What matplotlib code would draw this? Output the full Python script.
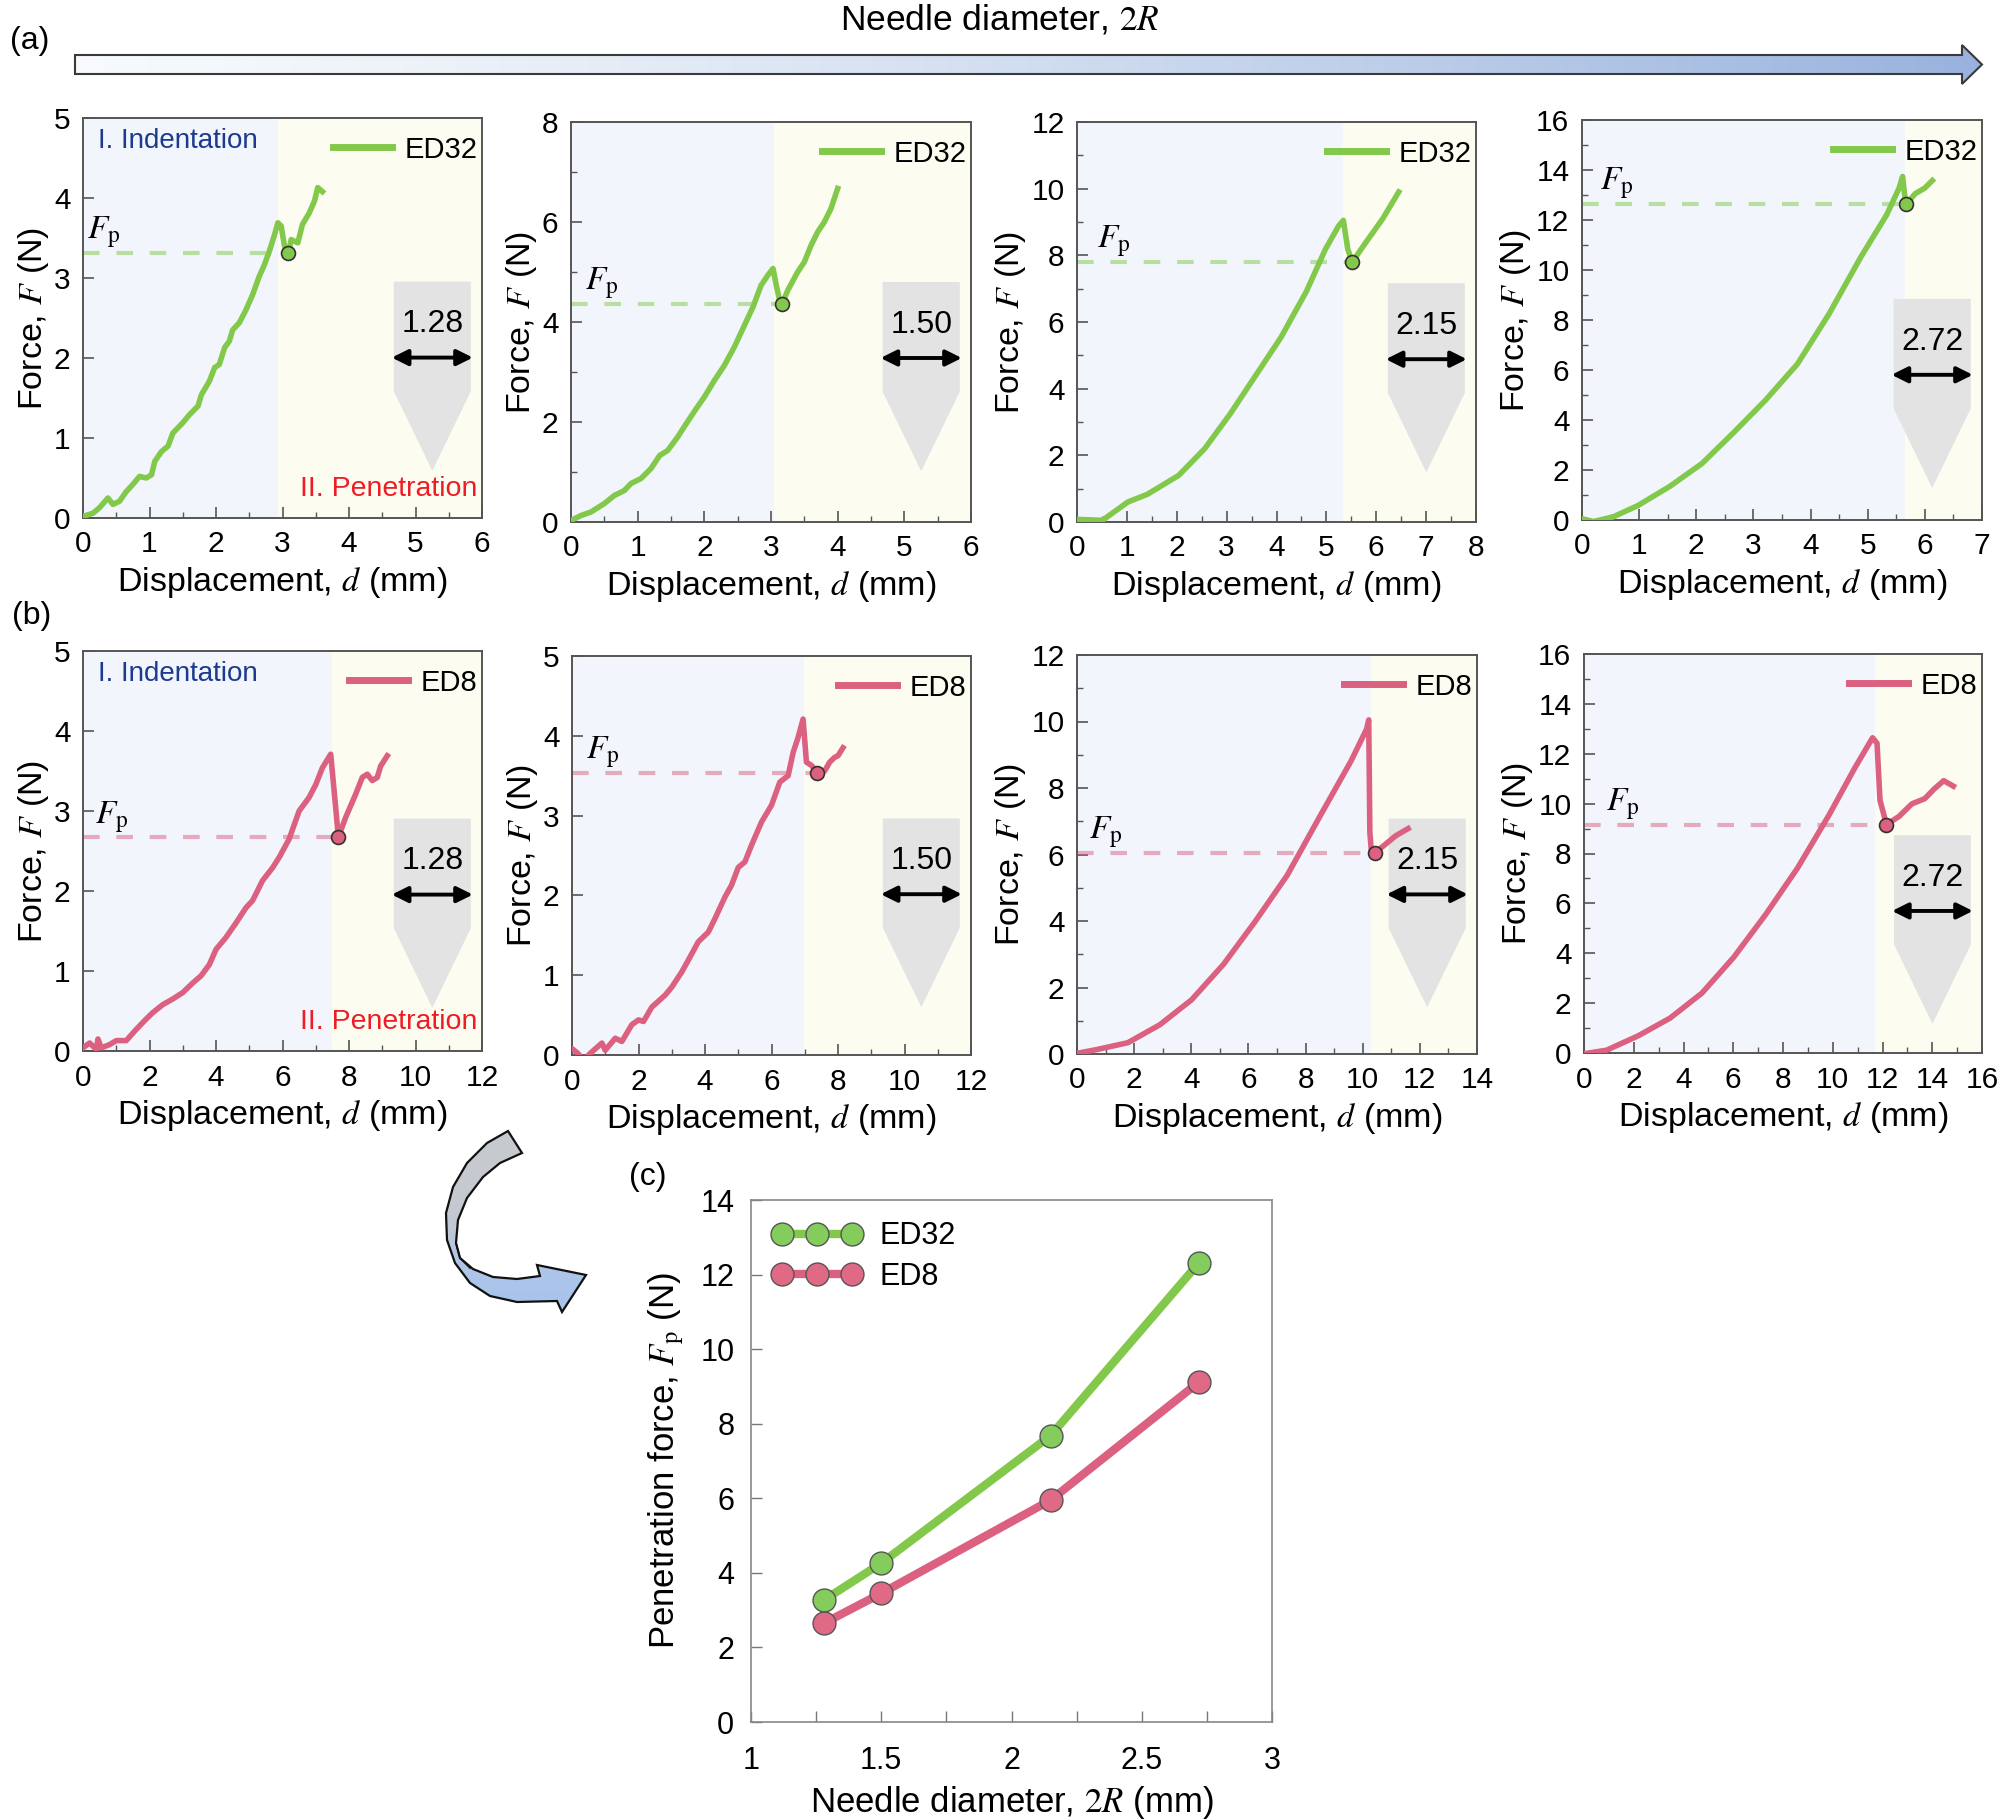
import numpy as np
import matplotlib.pyplot as plt
from matplotlib.patches import Polygon
from matplotlib.lines import Line2D

plt.rcParams['font.family'] = ['Liberation Sans', 'DejaVu Sans']
plt.rcParams['mathtext.fontset'] = 'stix'

# ---- data ----
# row (a): ED32
a1_d = [0, 0.15, 0.25, 0.375, 0.45, 0.55, 0.65, 0.75, 0.85, 0.95, 1.03, 1.08, 1.18, 1.28, 1.35, 1.5, 1.6, 1.73, 1.78, 1.9, 1.98, 2.05, 2.13, 2.2, 2.25, 2.35, 2.45, 2.55, 2.65, 2.73, 2.8, 2.88, 2.93, 2.98, 3.03, 3.06, 3.09, 3.13, 3.23, 3.3, 3.4, 3.48, 3.53, 3.6]
a1_f = [0.02, 0.06, 0.13, 0.25, 0.17, 0.21, 0.33, 0.42, 0.52, 0.5, 0.54, 0.71, 0.83, 0.9, 1.06, 1.19, 1.29, 1.4, 1.54, 1.71, 1.88, 1.92, 2.13, 2.21, 2.35, 2.44, 2.6, 2.79, 3.02, 3.17, 3.33, 3.54, 3.69, 3.65, 3.4, 3.33, 3.31, 3.48, 3.44, 3.67, 3.81, 3.96, 4.13, 4.08]
a2_d = [0, 0.15, 0.3, 0.5, 0.65, 0.8, 0.9, 1.05, 1.2, 1.33, 1.45, 1.6, 1.73, 1.88, 2.0, 2.15, 2.3, 2.45, 2.6, 2.73, 2.85, 2.95, 3.03, 3.08, 3.13, 3.17, 3.25, 3.4, 3.5, 3.6, 3.7, 3.8, 3.9, 4.0]
a2_f = [0.03, 0.13, 0.2, 0.37, 0.53, 0.63, 0.77, 0.87, 1.07, 1.33, 1.43, 1.7, 1.97, 2.27, 2.5, 2.83, 3.13, 3.5, 3.93, 4.3, 4.73, 4.93, 5.07, 4.73, 4.43, 4.37, 4.63, 5.0, 5.2, 5.53, 5.8, 6.0, 6.27, 6.67]
a3_d = [0, 0.51, 1.02, 1.41, 2.04, 2.56, 3.07, 3.58, 4.09, 4.6, 4.98, 5.24, 5.34, 5.43, 5.52, 5.75, 6.13, 6.45]
a3_f = [0.08, 0.05, 0.6, 0.83, 1.4, 2.2, 3.24, 4.39, 5.54, 6.92, 8.18, 8.87, 9.05, 8.18, 7.8, 8.3, 9.1, 9.9]
a4_d = [0, 0.2, 0.54, 0.98, 1.54, 2.1, 2.65, 3.21, 3.77, 4.32, 4.88, 5.33, 5.55, 5.61, 5.64, 5.67, 5.83, 6.0, 6.13]
a4_f = [0.05, -0.06, 0.12, 0.58, 1.35, 2.26, 3.49, 4.79, 6.24, 8.23, 10.52, 12.2, 13.28, 13.74, 13.12, 12.63, 13.05, 13.28, 13.58]

# row (b): ED8
b1_d = [0, 0.2, 0.4, 0.45, 0.55, 0.8, 1.0, 1.3, 1.6, 1.9, 2.1, 2.4, 2.7, 3.0, 3.3, 3.55, 3.8, 4.0, 4.3, 4.6, 4.9, 5.1, 5.4, 5.7, 5.9, 6.2, 6.5, 6.8, 7.0, 7.2, 7.45, 7.6, 7.68, 7.9, 8.2, 8.4, 8.55, 8.7, 8.85, 8.95, 9.15]
b1_f = [0.04, 0.1, 0.02, 0.15, 0.04, 0.08, 0.13, 0.13, 0.27, 0.4, 0.48, 0.58, 0.65, 0.73, 0.85, 0.94, 1.08, 1.27, 1.42, 1.6, 1.79, 1.88, 2.13, 2.29, 2.42, 2.65, 3.0, 3.17, 3.33, 3.54, 3.71, 3.04, 2.67, 2.92, 3.21, 3.42, 3.46, 3.38, 3.42, 3.56, 3.69]
b2_d = [0, 0.15, 0.35, 0.6, 0.9, 1.0, 1.3, 1.5, 1.8, 2.0, 2.15, 2.4, 2.8, 3.0, 3.3, 3.5, 3.8, 4.1, 4.3, 4.6, 4.8, 5.0, 5.2, 5.4, 5.7, 6.0, 6.25, 6.5, 6.65, 6.8, 6.95, 7.05, 7.2, 7.38, 7.6, 7.75, 7.9, 8.0, 8.15]
b2_f = [0.08, 0.03, -0.06, 0.04, 0.15, 0.06, 0.21, 0.17, 0.38, 0.44, 0.42, 0.6, 0.75, 0.85, 1.04, 1.19, 1.42, 1.54, 1.71, 1.98, 2.13, 2.35, 2.42, 2.63, 2.92, 3.13, 3.42, 3.5, 3.79, 3.98, 4.21, 3.67, 3.63, 3.54, 3.56, 3.67, 3.73, 3.75, 3.85]
b3_d = [0, 0.67, 1.78, 2.9, 4.01, 5.13, 6.24, 7.36, 8.47, 9.59, 10.14, 10.21, 10.25, 10.3, 10.43, 10.7, 11.15, 11.59]
b3_f = [0.02, 0.13, 0.34, 0.88, 1.63, 2.7, 3.99, 5.38, 7.1, 8.81, 9.78, 10.05, 6.67, 6.13, 6.06, 6.24, 6.56, 6.78]
b4_d = [0, 0.9, 2.18, 3.46, 4.74, 6.02, 7.3, 8.58, 9.86, 10.88, 11.6, 11.78, 11.9, 12.16, 12.67, 13.18, 13.7, 14.08, 14.46, 14.85]
b4_f = [-0.03, 0.11, 0.69, 1.4, 2.4, 3.84, 5.55, 7.41, 9.56, 11.42, 12.64, 12.42, 10.13, 9.16, 9.49, 9.99, 10.2, 10.59, 10.92, 10.7]

# penetration points (dip after peak) per panel
fp_d_ed32 = [3.09, 3.17, 5.52, 5.67]
fp_ed32 = [3.31, 4.37, 7.80, 12.63]
fp_d_ed8 = [7.68, 7.38, 10.43, 12.16]
fp_ed8 = [2.67, 3.54, 6.06, 9.16]

# indentation / penetration boundary (mm)
split_ed32 = [2.93, 3.04, 5.34, 5.66]
split_ed8 = [7.48, 6.98, 10.3, 11.7]

# needle diameters, 2R (mm)
needle_d = [1.28, 1.50, 2.15, 2.72]

# panel (c)
pen_ed32 = [3.27, 4.26, 7.68, 12.32]
pen_ed8 = [2.65, 3.45, 5.95, 9.12]

GREEN = '#82c84a'
PINK = '#dc6080'
GREEN_M = '#84cc5c'
PINK_M = '#e06a86'
BLUE_BG = '#f2f6fc'
YEL_BG = '#fcfcf1'
NEEDLE = '#e3e3e3'
SPINE = '#555555'

W, H = 2000, 1820
fig = plt.figure(figsize=(W / 100, H / 100), dpi=100)


def px_rect(l, t, r, b):
    return [l / W, 1 - b / H, (r - l) / W, (b - t) / H]


def panel(rect, d, f, fpx, fpv, split, xmax, ymax, xmaj, xmin, ymaj, ymin,
          color, name, diam, ntop, fpx_txt, phases):
    ax = fig.add_axes(rect)
    ax.set_xlim(0, xmax)
    ax.set_ylim(0, ymax)
    ax.axvspan(0, split, color=BLUE_BG, zorder=0, lw=0)
    ax.axvspan(split, xmax, color=YEL_BG, zorder=0, lw=0)

    # needle sketch
    x0, x1 = 0.779, 0.972
    xm = (x0 + x1) / 2
    needle = Polygon([(x0, ntop), (x1, ntop), (x1, ntop - 0.274),
                      (xm, ntop - 0.473), (x0, ntop - 0.274)],
                     closed=True, transform=ax.transAxes, facecolor=NEEDLE,
                     edgecolor='none', zorder=1)
    ax.add_patch(needle)
    ax.text(xm, ntop - 0.107, '%.2f' % diam, transform=ax.transAxes,
            ha='center', va='center', fontsize=23, zorder=2)
    ax.annotate('', xy=(x0 - 0.005, ntop - 0.19), xytext=(x1 + 0.005, ntop - 0.19),
                xycoords='axes fraction', textcoords='axes fraction',
                arrowprops=dict(arrowstyle='<|-|>', color='k', lw=2.8,
                                mutation_scale=24, shrinkA=0, shrinkB=0), zorder=2)

    ax.plot(d, f, color=color, lw=4, zorder=3, solid_joinstyle='round')
    ax.plot([0, fpx], [fpv, fpv], color=color, alpha=0.5, lw=3,
            dashes=(4, 4), zorder=2)
    ax.plot([fpx], [fpv], 'o', ms=10, mfc=color, mec='#333333', mew=1.2, zorder=4)
    ax.annotate(r'$F_{\rm p}$', xy=(fpx_txt, fpv), xycoords=('axes fraction', 'data'),
                xytext=(0, 2), textcoords='offset points', ha='left', va='bottom',
                fontsize=24, zorder=4)

    ax.legend(handles=[Line2D([], [], color=color, lw=5)], labels=[name],
              loc='upper right', bbox_to_anchor=(1.0, 0.967), frameon=False,
              fontsize=21, handlelength=2.0, handletextpad=0.45,
              borderaxespad=0.0, borderpad=0.15)

    if phases:
        ax.text(0.0375, 0.975, 'I. Indentation', transform=ax.transAxes,
                ha='left', va='top', color='#1c3b8e', fontsize=20)
        ax.text(0.9875, 0.055, 'II. Penetration', transform=ax.transAxes,
                ha='right', va='baseline', color='#ee1c25', fontsize=20.5)

    ax.set_xticks(np.arange(0, xmax + 0.01, xmaj))
    ax.set_xticks(np.arange(0, xmax + 0.01, xmin), minor=True)
    ax.set_yticks(np.arange(0, ymax + 0.01, ymaj))
    if ymin:
        ax.set_yticks(np.arange(0, ymax + 0.01, ymin), minor=True)
    ax.xaxis.set_major_formatter(plt.FuncFormatter(lambda v, p: '%g' % v))
    ax.tick_params(which='both', direction='in', color=SPINE, labelsize=21.5,
                   top=False, right=False)
    ax.tick_params(which='major', length=8, width=1.2, pad=9)
    ax.tick_params(which='minor', length=4.5, width=1.0)
    for s in ax.spines.values():
        s.set_color(SPINE)
        s.set_linewidth(1.4)
    ax.set_xlabel(r'Displacement, $d$ (mm)', fontsize=24.5, labelpad=5)
    ax.set_ylabel(r'Force, $F$ (N)', fontsize=24.5, labelpad=2)
    return ax


# row (a)
panel(px_rect(83, 118, 482, 518), a1_d, a1_f, fp_d_ed32[0], fp_ed32[0], split_ed32[0],
      6, 5, 1, 0.5, 1, None, GREEN, 'ED32', needle_d[0], 0.591, 0.01, True)
panel(px_rect(571, 122, 971, 522), a2_d, a2_f, fp_d_ed32[1], fp_ed32[1], split_ed32[1],
      6, 8, 1, 0.5, 2, 1, GREEN, 'ED32', needle_d[1], 0.600, 0.035, False)
panel(px_rect(1077, 122, 1476, 522), a3_d, a3_f, fp_d_ed32[2], fp_ed32[2], split_ed32[2],
      8, 12, 1, 0.5, 2, 1, GREEN, 'ED32', needle_d[2], 0.597, 0.05, False)
panel(px_rect(1582, 120, 1982, 520), a4_d, a4_f, fp_d_ed32[3], fp_ed32[3], split_ed32[3],
      7, 16, 1, 0.5, 2, 1, GREEN, 'ED32', needle_d[3], 0.553, 0.045, False)

# row (b)
panel(px_rect(83, 651, 482, 1051), b1_d, b1_f, fp_d_ed8[0], fp_ed8[0], split_ed8[0],
      12, 5, 2, 1, 1, None, PINK, 'ED8', needle_d[0], 0.581, 0.03, True)
panel(px_rect(572, 656, 971, 1055), b2_d, b2_f, fp_d_ed8[1], fp_ed8[1], split_ed8[1],
      12, 5, 2, 1, 1, None, PINK, 'ED8', needle_d[1], 0.593, 0.035, False)
panel(px_rect(1077, 655, 1477, 1054), b3_d, b3_f, fp_d_ed8[2], fp_ed8[2], split_ed8[2],
      14, 12, 2, 1, 2, 1, PINK, 'ED8', needle_d[2], 0.590, 0.03, False)
panel(px_rect(1584, 654, 1982, 1053), b4_d, b4_f, fp_d_ed8[3], fp_ed8[3], split_ed8[3],
      16, 16, 2, 1, 2, 1, PINK, 'ED8', needle_d[3], 0.546, 0.055, False)

# panel (c)
axc = fig.add_axes(px_rect(751, 1200, 1272, 1722))
axc.plot(needle_d, pen_ed32, '-o', color=GREEN, lw=6, ms=16.5, mfc=GREEN_M,
         mec='#555555', mew=1.0, label='ED32', zorder=3)
axc.plot(needle_d, pen_ed8, '-o', color=PINK, lw=6, ms=16.5, mfc=PINK_M,
         mec='#555555', mew=1.0, label='ED8', zorder=3)
axc.set_xlim(1, 3)
axc.set_ylim(0, 14)
axc.set_xticks([1, 1.5, 2, 2.5, 3])
axc.set_xticklabels(['1', '1.5', '2', '2.5', '3'])
axc.set_xticks(np.arange(1, 3.01, 0.25), minor=True)
axc.set_yticks(np.arange(0, 14.1, 2))
axc.tick_params(which='both', direction='in', color='#777777', labelsize=22,
                top=False, right=False)
axc.tick_params(which='major', length=8, width=1.0, pad=12)
axc.tick_params(axis='x', which='major', pad=17)
axc.tick_params(which='minor', length=8, width=1.0)
for s in axc.spines.values():
    s.set_color('#888888')
    s.set_linewidth(1.2)
axc.legend(loc='upper left', frameon=False, fontsize=22, numpoints=3,
           handlelength=2.9, handletextpad=0.6, borderaxespad=0.4,
           borderpad=0.3, labelspacing=0.35)
axc.set_xlabel(r'Needle diameter, $2R$ (mm)', fontsize=25, labelpad=6)
axc.set_ylabel(r'Penetration force, $F_{\rm p}$ (N)', fontsize=25, labelpad=10)

# ---- overlay: panel letters, top arrow, curved arrow ----
ov = fig.add_axes([0, 0, 1, 1], zorder=10)
ov.axis('off')

ov.text(30, 41, '(a)', fontsize=23, ha='center', va='center')
ov.text(32, 616, '(b)', fontsize=23, ha='center', va='center')
ov.text(648, 1177, '(c)', fontsize=23, ha='center', va='center')
ov.text(1000, 19, r'Needle diameter, $2R$', fontsize=25.5, ha='center', va='center')

# top gradient arrow
top_arrow = [(75, 55), (1962, 55), (1962, 45), (1982, 64.5), (1962, 84),
             (1962, 74), (75, 74)]
grad = np.linspace(0, 1, 256).reshape(1, -1)
c0 = np.array([0.97, 0.98, 0.99])
c1 = np.array([0.60, 0.70, 0.87])
img = c0 + (c1 - c0) * grad[..., None] ** 1.3
im = ov.imshow(img, extent=(75, 1982, 84, 45), aspect='auto', origin='upper', zorder=1)
p = Polygon(top_arrow, closed=True, facecolor='none', edgecolor='#3a3a3a', lw=1.5, zorder=2)
ov.add_patch(p)
im.set_clip_path(p)

# curved (twisted ribbon) arrow from (b) to (c), outline in figure pixels
ribbon = [(508, 1131), (487, 1143), (467, 1163), (453, 1187), (446, 1213),
          (447, 1240), (455, 1263), (470, 1283), (490, 1296), (517, 1302),
          (557, 1301), (562, 1312), (586, 1275), (537, 1265), (540, 1276),
          (517, 1279), (493, 1277), (473, 1269), (460, 1258), (456, 1243),
          (458, 1220), (467, 1198), (483, 1177), (500, 1163), (522, 1153)]
vg = np.linspace(0, 1, 256).reshape(-1, 1)
g0 = np.array([0.78, 0.79, 0.81])
g1 = np.array([0.66, 0.77, 0.93])
w = 1 / (1 + np.exp(-(vg - 0.62) * 12))
img2 = g0 + (g1 - g0) * w[..., None] * np.ones((1, 2, 1))
im2 = ov.imshow(img2, extent=(440, 595, 1320, 1128), aspect='auto', origin='upper', zorder=1)
p2 = Polygon(ribbon, closed=True, facecolor='none', edgecolor='#111111', lw=1.6, zorder=2)
ov.add_patch(p2)
im2.set_clip_path(p2)
# twist line
ov.plot([456, 460, 470], [1243, 1258, 1268], color='#111111', lw=1.2, zorder=3)
ov.set_xlim(0, W)
ov.set_ylim(H, 0)

fig.savefig('out.png', dpi=100)
